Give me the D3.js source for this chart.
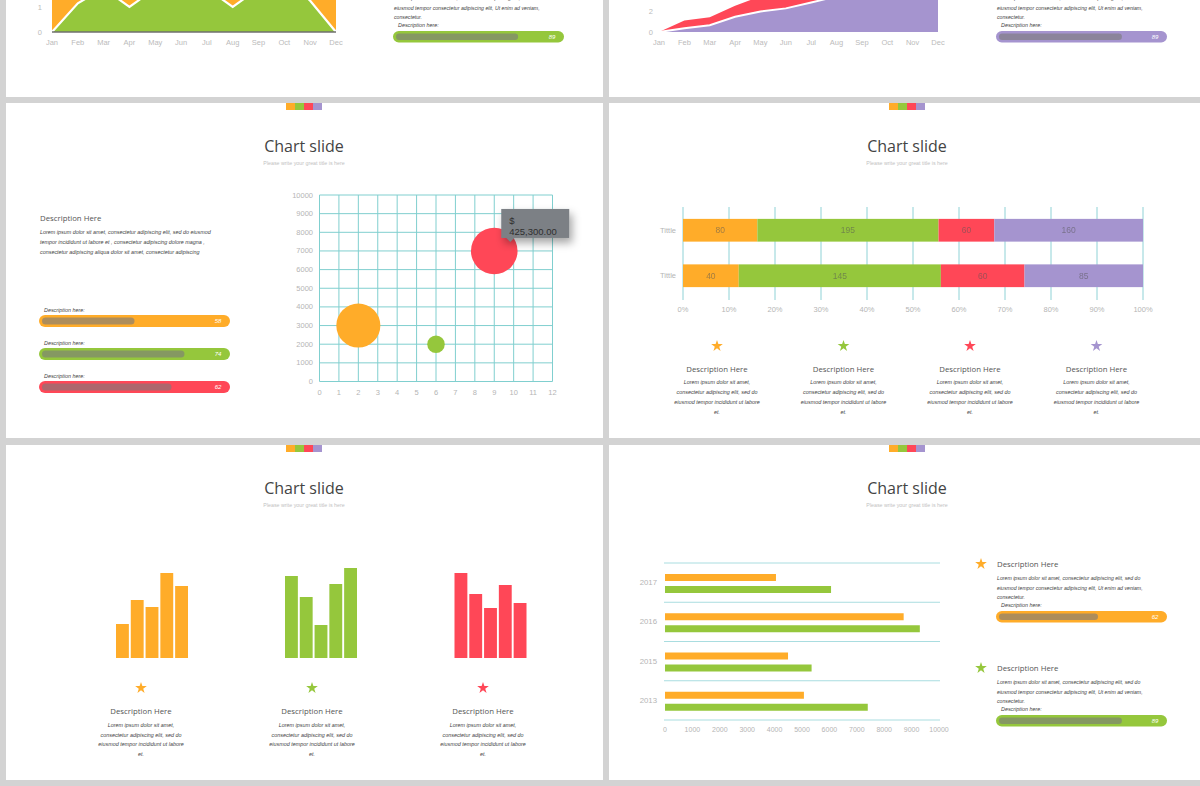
<!DOCTYPE html>
<html><head><meta charset="utf-8">
<script src="https://cdn.jsdelivr.net/npm/d3@7"></script>
<style>html,body{margin:0;padding:0;background:#d3d3d3;} svg{display:block}</style>
</head><body><svg id="c" width="1200" height="786"></svg>
<script>
// ---------- DATA ----------
const palette = ["#FFAC29", "#95C73C", "#FF4757", "#A594CF"]; // orange, green, red, purple
const months = ["Jan","Feb","Mar","Apr","May","Jun","Jul","Aug","Sep","Oct","Nov","Dec"];
const areaOrange = [2.6, 3.0, 3.2, 2.8, 3.3, 3.6, 3.4, 2.9, 3.2, 3.4, 3.0, 2.6];
const areaGreen  = [0, 1.15, 1.75, 1.0, 1.75, 2.3, 1.75, 1.0, 1.75, 2.2, 1.25, 0];
const areaRed    = [0, 1.1, 1.4, 2.5, 3.4, 3.8, 4.3, 4.9, 5.4, 5.9, 6.4, 6.9];
const areaPurple = [0, 0.35, 0.65, 1.45, 1.95, 2.25, 2.8, 3.4, 4.0, 4.5, 5.0, 5.5];
const topLeftTicks = [0, 1];
const topRightTicks = [0, 2];

const bubbleX = [2, 6, 9];
const bubbleY = [3000, 2000, 7000];
const bubbleSize = [380000, 60000, 425300];
const bubbleTooltip = ["$", "425,300.00"];

const stackCats = ["Tittle", "Tittle"];
const stackSeries = [[80, 40], [195, 145], [60, 60], [160, 85]];

const miniBars = [[34, 58, 51, 85, 72], [82, 61, 33, 74, 90], [85, 64, 50, 73, 55]];

const years = ["2017", "2016", "2015", "2013"];
const hbarOrange = [4050, 8710, 4490, 5070];
const hbarGreen  = [6060, 9300, 5350, 7400];

const leftProgressLabels = ["58", "74", "62"];
const leftProgressFill = [0.50, 0.77, 0.70];
const blockProgressLabels = ["89", "89", "62", "89"]; // top-left, top-right, bottom-right 1, bottom-right 2
const blockProgressFill = [0.74, 0.745, 0.60, 0.745];

const titleText = "Chart slide";
const subtitleText = "Please write your great title is here";
const descTitle = "Description Here";
const descSmall = "Description here:";
const loremCol = ["Lorem ipsum dolor sit amet,", "consectetur adipiscing elit, sed do", "eiusmod tempor incididunt ut labore", "et."];
const loremBlock = ["Lorem ipsum dolor sit amet,  consectetur adipiscing elit, sed do", "eiusmod tempor  consectetur adipiscing elit, Ut enim ad  veniam,", "consectetur."];
const loremLeft = ["Lorem ipsum dolor sit amet,  consectetur adipiscing elit, sed do eiusmod", "tempor incididunt ut labore et ,  consectetur adipiscing dolore magna ,", "consectetur adipiscing aliqua dolor sit amet, consectetur adipiscing"];

// ---------- HELPERS ----------
const svg = d3.select("#c");
const defs = svg.append("defs");
const f = defs.append("filter").attr("id","shadow").attr("x","-30%").attr("y","-30%").attr("width","170%").attr("height","190%");
f.append("feDropShadow").attr("dx",3).attr("dy",5).attr("stdDeviation",4).attr("flood-color","#000").attr("flood-opacity",0.35);

const SANS = "'Liberation Sans', Arial, sans-serif";
const TITLEF = "'Open Sans', 'Noto Sans', sans-serif";
function txt(g, x, y, s, o = {}) {
  return g.append("text").attr("x", x).attr("y", y).text(s)
    .attr("dominant-baseline", "central")
    .attr("font-family", o.family || SANS)
    .attr("font-size", o.size || 7)
    .attr("font-style", o.italic ? "italic" : "normal")
    .attr("text-anchor", o.anchor || "start")
    .attr("fill", o.fill || "#555")
    .attr("opacity", o.opacity == null ? 1 : o.opacity);
}
function header(cx, top) {
  const g = svg.append("g");
  palette.forEach((c, i) => g.append("rect").attr("x", cx - 18 + i * 9).attr("y", top).attr("width", 9).attr("height", 7).attr("fill", c));
  txt(g, cx, top + 43, titleText, {family: TITLEF, size: 16, anchor: "middle", fill: "#444"});
  txt(g, cx, top + 60, subtitleText, {size: 5.3, anchor: "middle", fill: "#c2c2c2"});
}
function star(g, x, y, color) {
  g.append("path").attr("d", d3.symbol(d3.symbolStar, 42)()).attr("transform", `translate(${x},${y})`).attr("fill", color);
}
function progress(g, x, y, w, h, color, frac, label) {
  g.append("rect").attr("x", x).attr("y", y).attr("width", w).attr("height", h).attr("rx", h / 2).attr("fill", color);
  const inner = d3.scaleLinear().domain([0, 1]).range([0, w - 6]);
  g.append("rect").attr("x", x + 3).attr("y", y + 2.5).attr("width", inner(frac)).attr("height", h - 5).attr("rx", (h - 5) / 2).attr("fill", "#7a7a7a").attr("opacity", 0.62);
  txt(g, x + w - 12, y + h / 2, label, {size: 6, italic: true, anchor: "middle", fill: "#fff"});
}
// full description block (star + title + lorem + bar); "visibleFrom" skips lines lying fully above the page
function descBlock(bx, by, color, frac, label) {
  const g = svg.append("g");
  if (by > 5) {
    star(g, bx - 15, by, color);
    txt(g, bx + 1, by, descTitle, {family: TITLEF, size: 7.8, fill: "#555"});
  }
  loremBlock.forEach((l, i) => {
    const yy = by + 14 + i * 9.5;
    if (yy > -3) txt(g, bx + 1, yy, l, {size: 5.2, italic: true, fill: "#444"});
  });
  txt(g, bx + 5, by + 41, descSmall, {size: 5.4, italic: true, fill: "#444"});
  progress(g, bx, by + 47, 171, 11.5, color, frac, label);
}

// ---------- BACKGROUND / SLIDES ----------
svg.append("rect").attr("width", 1200).attr("height", 786).attr("fill", "#d3d3d3");
[[6, -10, 597, 107], [609, -10, 591, 107], [6, 103, 597, 335], [609, 103, 591, 335], [6, 445, 597, 335], [609, 445, 591, 335]]
  .forEach(r => svg.append("rect").attr("x", r[0]).attr("y", r[1]).attr("width", r[2]).attr("height", r[3]).attr("fill", "#fff"));

// ---------- TOP LEFT: area chart ----------
{
  const g = svg.append("g");
  const x = d3.scalePoint().domain(months).range([52, 336]);
  const y = d3.scaleLinear().domain([0, 4]).range([32, -68]);
  const area = vals => d3.area().x((d, i) => x(months[i])).y0(y(0)).y1(d => y(d))(vals);
  const line = vals => d3.line().x((d, i) => x(months[i])).y(d => y(d))(vals);
  g.append("path").attr("d", area(areaOrange)).attr("fill", palette[0]);
  g.append("path").attr("d", area(areaGreen)).attr("fill", palette[1]);
  g.append("path").attr("d", line(areaGreen)).attr("fill", "none").attr("stroke", "#fff").attr("stroke-width", 2.2);
  g.append("line").attr("x1", x("Jan")).attr("x2", x("Dec")).attr("y1", y(0)).attr("y2", y(0)).attr("stroke", "#6f6f6f").attr("stroke-width", 1.3);
  topLeftTicks.forEach(t => txt(g, 42, y(t), String(t), {size: 7.5, anchor: "end", fill: "#bbb"}));
  months.forEach(m => txt(g, x(m), 42.5, m, {size: 7.5, anchor: "middle", fill: "#bbb"}));
  descBlock(393, -16, palette[1], blockProgressFill[0], blockProgressLabels[0]);
}

// ---------- TOP RIGHT: area chart ----------
{
  const g = svg.append("g");
  const x = d3.scalePoint().domain(months).range([659, 938]);
  const y = d3.scaleLinear().domain([0, 8]).range([32, -52]);
  const area = vals => d3.area().x((d, i) => x(months[i])).y0(y(0)).y1(d => y(d))(vals);
  const line = vals => d3.line().x((d, i) => x(months[i])).y(d => y(d))(vals);
  g.append("path").attr("d", area(areaRed)).attr("fill", palette[2]);
  g.append("path").attr("d", area(areaPurple)).attr("fill", palette[3]);
  g.append("path").attr("d", line(areaPurple)).attr("fill", "none").attr("stroke", "#fff").attr("stroke-width", 2);
  topRightTicks.forEach(t => txt(g, 653, y(t), String(t), {size: 7.5, anchor: "end", fill: "#bbb"}));
  months.forEach(m => txt(g, x(m), 42.5, m, {size: 7.5, anchor: "middle", fill: "#bbb"}));
  descBlock(996, -16, palette[3], blockProgressFill[1], blockProgressLabels[1]);
}

// ---------- MIDDLE LEFT: bubble chart ----------
{
  header(304, 103);
  const g = svg.append("g");
  txt(g, 40, 218, descTitle, {family: TITLEF, size: 7.8, fill: "#555"});
  loremLeft.forEach((l, i) => txt(g, 40, 232 + i * 10, l, {size: 5.4, italic: true, fill: "#444"}));
  leftProgressLabels.forEach((lab, i) => {
    const y0 = 315 + i * 33;
    txt(g, 44, y0 - 5, descSmall, {size: 5.4, italic: true, fill: "#444"});
    progress(g, 39, y0, 191, 12, palette[i], leftProgressFill[i], lab);
  });
  const x = d3.scaleLinear().domain([0, 12]).range([319.5, 552.5]);
  const y = d3.scaleLinear().domain([0, 10000]).range([381.5, 195]);
  const r = d3.scaleSqrt().domain([0, 425300]).range([0, 23.3]);
  const grid = "#80cfcf";
  d3.range(0, 13).forEach(t => g.append("line").attr("x1", x(t)).attr("x2", x(t)).attr("y1", y(0)).attr("y2", y(10000)).attr("stroke", grid).attr("stroke-width", 1));
  d3.range(0, 10001, 1000).forEach(t => g.append("line").attr("x1", x(0)).attr("x2", x(12)).attr("y1", y(t)).attr("y2", y(t)).attr("stroke", grid).attr("stroke-width", 1));
  d3.range(0, 10001, 1000).forEach(t => txt(g, 313, y(t), String(t), {size: 7.5, anchor: "end", fill: "#b5b5b5"}));
  d3.range(0, 13).forEach(t => txt(g, x(t), 392, String(t), {size: 7.5, anchor: "middle", fill: "#b5b5b5"}));
  bubbleX.forEach((bx, i) => g.append("circle").attr("cx", x(bx)).attr("cy", y(bubbleY[i])).attr("r", r(bubbleSize[i])).attr("fill", palette[i]));
  // tooltip attached to the last bubble
  const tx = x(bubbleX[2]) + 7, ty = y(bubbleY[2]) - 42;
  const tg = g.append("g");
  tg.append("rect").attr("x", tx).attr("y", ty).attr("width", 68).attr("height", 29).attr("fill", "#7b8085").attr("filter", "url(#shadow)");
  tg.append("path").attr("d", `M${tx + 5},${ty + 29} L${tx + 13},${ty + 29} L${tx + 9},${ty + 33} Z`).attr("fill", "#7b8085");
  bubbleTooltip.forEach((s, i) => txt(tg, tx + 8, ty + 12 + i * 11, s, {size: 9.5, fill: "#2f2f2f"}));
}

// ---------- MIDDLE RIGHT: 100% stacked bar ----------
{
  header(907, 103);
  const g = svg.append("g");
  const x = d3.scaleLinear().domain([0, 1]).range([683, 1143]);
  const y = d3.scaleBand().domain(d3.range(stackCats.length)).range([207.5, 298.5]).paddingInner(0.5).paddingOuter(0.25);
  d3.range(0, 1.0001, 0.1).forEach(t => g.append("line").attr("x1", x(t)).attr("x2", x(t)).attr("y1", 207).attr("y2", 300).attr("stroke", "#8fd2d6").attr("stroke-width", 1));
  d3.range(0, 11).forEach(t => txt(g, x(t / 10), 309, (t * 10) + "%", {size: 7.5, anchor: "middle", fill: "#b5b5b5"}));
  stackCats.forEach((c, ci) => {
    const total = d3.sum(stackSeries, s => s[ci]);
    let cum = 0;
    txt(g, 676, y(ci) + y.bandwidth() / 2, c, {size: 7.5, anchor: "end", fill: "#b5b5b5"});
    stackSeries.forEach((s, si) => {
      const x0 = x(cum / total), x1 = x((cum + s[ci]) / total);
      g.append("rect").attr("x", x0).attr("y", y(ci)).attr("width", x1 - x0).attr("height", y.bandwidth()).attr("fill", palette[si]);
      txt(g, (x0 + x1) / 2, y(ci) + y.bandwidth() / 2, String(s[ci]), {size: 8.5, anchor: "middle", fill: "#555", opacity: 0.55});
      cum += s[ci];
    });
  });
  const cx = [717, 843.5, 970, 1096.5];
  cx.forEach((c, i) => {
    star(g, c, 346, palette[i]);
    txt(g, c, 369, descTitle, {family: TITLEF, size: 7.8, anchor: "middle", fill: "#555"});
    loremCol.forEach((l, li) => txt(g, c, 382 + li * 10, l, {size: 5.4, italic: true, anchor: "middle", fill: "#444"}));
  });
}

// ---------- BOTTOM LEFT: three mini bar charts ----------
{
  header(304, 445);
  const g = svg.append("g");
  const y = d3.scaleLinear().domain([0, 100]).range([658, 558]);
  const starts = [116, 285, 454.5];
  const cx = [141, 312, 483];
  miniBars.forEach((vals, k) => {
    const x = d3.scaleBand().domain(d3.range(vals.length)).range([starts[k], starts[k] + 72]).paddingInner(0.13);
    vals.forEach((v, i) => g.append("rect").attr("x", x(i)).attr("y", y(v)).attr("width", x.bandwidth()).attr("height", y(0) - y(v)).attr("fill", palette[k]));
    star(g, cx[k], 688, palette[k]);
    txt(g, cx[k], 711, descTitle, {family: TITLEF, size: 7.8, anchor: "middle", fill: "#555"});
    loremCol.forEach((l, li) => txt(g, cx[k], 725 + li * 9.5, l, {size: 5.4, italic: true, anchor: "middle", fill: "#444"}));
  });
}

// ---------- BOTTOM RIGHT: grouped horizontal bars ----------
{
  header(907, 445);
  const g = svg.append("g");
  const x = d3.scaleLinear().domain([0, 10000]).range([665, 939]);
  const y = d3.scaleBand().domain(years).range([563, 720]);
  const sub = d3.scaleBand().domain(["o", "g"]).range([11, 30]).paddingInner(5 / 12);
  d3.range(years.length + 1).forEach(i => {
    const yy = 563 + i * y.step();
    g.append("line").attr("x1", 664).attr("x2", 940).attr("y1", yy).attr("y2", yy).attr("stroke", "#a9dde0").attr("stroke-width", 1);
  });
  years.forEach((yr, i) => {
    txt(g, 657, y(yr) + y.bandwidth() / 2, yr, {size: 7.8, anchor: "end", fill: "#b5b5b5"});
    g.append("rect").attr("x", x(0)).attr("y", y(yr) + sub("o")).attr("width", x(hbarOrange[i]) - x(0)).attr("height", sub.bandwidth()).attr("fill", palette[0]);
    g.append("rect").attr("x", x(0)).attr("y", y(yr) + sub("g")).attr("width", x(hbarGreen[i]) - x(0)).attr("height", sub.bandwidth()).attr("fill", palette[1]);
  });
  d3.range(0, 10001, 1000).forEach(t => txt(g, x(t), 729, String(t), {size: 7, anchor: "middle", fill: "#b5b5b5"}));
  descBlock(996, 564, palette[0], blockProgressFill[2], blockProgressLabels[2]);
  descBlock(996, 668, palette[1], blockProgressFill[3], blockProgressLabels[3]);
}
</script></body></html>
